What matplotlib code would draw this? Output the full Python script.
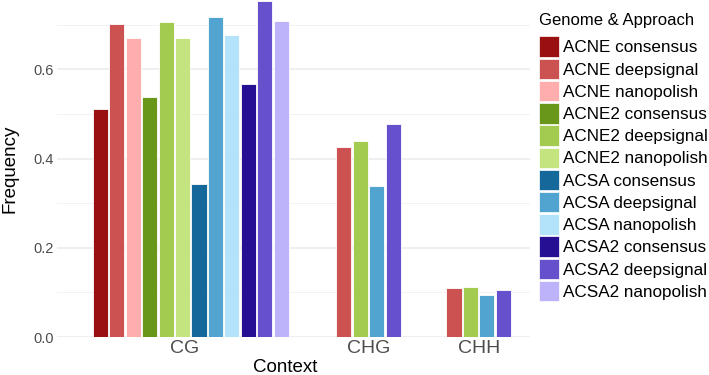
import matplotlib.pyplot as plt
import numpy as np

plt.rcParams['font.family'] = ['Liberation Sans', 'DejaVu Sans']

# datos
contexts = ["CG", "CHG", "CHH"]
series = ["ACNE consensus", "ACNE deepsignal", "ACNE nanopolish",
          "ACNE2 consensus", "ACNE2 deepsignal", "ACNE2 nanopolish",
          "ACSA consensus", "ACSA deepsignal", "ACSA nanopolish",
          "ACSA2 consensus", "ACSA2 deepsignal", "ACSA2 nanopolish"]
colors = ["#9A1010", "#CC5252", "#FFADAD",
          "#68971A", "#A3CB4F", "#C3E47F",
          "#14699A", "#50A4CF", "#B3E2FB",
          "#270F94", "#6650CC", "#BDB3FB"]

cg_vals = [0.511, 0.701, 0.669, 0.538, 0.705, 0.671,
           0.343, 0.716, 0.677, 0.567, 0.752, 0.708]
chg_series = ["ACNE deepsignal", "ACNE2 deepsignal", "ACSA deepsignal", "ACSA2 deepsignal"]
chg_vals = [0.425, 0.440, 0.338, 0.478]
chh_series = chg_series
chh_vals = [0.110, 0.112, 0.094, 0.105]

# posiciones de los grupos (en unidades de barra)
centers = [0.0, 10.8, 17.5]
w = 0.92

fig = plt.figure(figsize=(7.09, 3.75), dpi=100)
ax = fig.add_axes([0.080, 0.101, 0.667, 0.899])

groups = [(series, cg_vals), (chg_series, chg_vals), (chh_series, chh_vals)]
for c, (names, vals) in zip(centers, groups):
    n = len(names)
    xs = c + np.arange(n) - (n - 1) / 2
    for x, name, v in zip(xs, names, vals):
        ax.bar(x, v, width=w, color=colors[series.index(name)],
               edgecolor="white", linewidth=0.6, zorder=2)

ax.set_xlim(-8.15, 20.6)
ax.set_ylim(0, 0.755)
ax.set_xticks([c - 0.4 if i == 0 else c for i, c in enumerate(centers)])
ax.set_xticklabels(contexts, fontsize=14, color="#4D4D4D")
ax.set_yticks([0.0, 0.2, 0.4, 0.6])
ax.set_yticklabels(["0.0", "0.2", "0.4", "0.6"], fontsize=10.5, color="#4D4D4D")
ax.set_yticks([0.1, 0.3, 0.5, 0.7], minor=True)
ax.tick_params(length=0, which="both", pad=2)
ax.grid(axis="y", which="major", color="#EBEBEB", linewidth=1.1, zorder=0)
ax.grid(axis="y", which="minor", color="#F2F2F2", linewidth=0.7, zorder=0)
for s in ax.spines.values():
    s.set_visible(False)
ax.set_xlabel("Context", fontsize=13.5)
ax.xaxis.set_label_coords(0.483, -0.065)
ax.set_ylabel("Frequency", fontsize=13.5, labelpad=10.5)

handles = [plt.Rectangle((0, 0), 1, 1, facecolor=col, edgecolor="white", linewidth=0.5)
           for col in colors]
leg = fig.legend(handles, series, loc="upper left", bbox_to_anchor=(0.760, 0.965),
                 frameon=False, fontsize=12.3, title="Genome & Approach",
                 title_fontsize=12, handlelength=1.2, handleheight=1.47,
                 handletextpad=0.2, labelspacing=0.1, borderaxespad=0,
                 borderpad=0)
leg._legend_box.align = "left"
leg._legend_box.sep = 6  # espacio entre titulo y entradas

fig.savefig("out.png", dpi=100)
